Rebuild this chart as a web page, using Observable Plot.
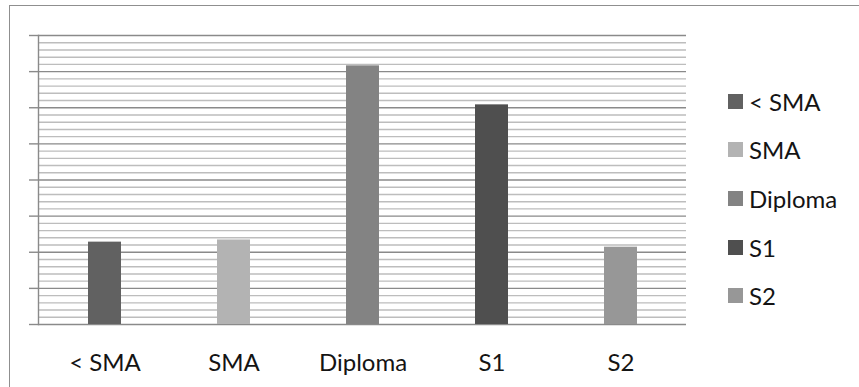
<!DOCTYPE html>
<html>
<head>
<meta charset="utf-8">
<script src="https://cdn.jsdelivr.net/npm/d3@7"></script>
<script src="https://cdn.jsdelivr.net/npm/@observablehq/plot@0.6"></script>
<style>
  html, body { margin: 0; padding: 0; background: #fff; overflow: hidden; }
  #wrap { position: relative; width: 859px; height: 387px; overflow: hidden; }
  #box { position: absolute; left: 8.5px; top: 4.5px; width: 1000px; height: 600px;
         border: 1.6px solid #8f8f8f; box-sizing: border-box; }
  #chart { position: absolute; left: 0; top: 0; }
  #legend { position: absolute; left: 728px; top: 0; font-family: Lato, sans-serif;
            font-size: 24px; color: #141414; }
  .item { position: absolute; left: 0; display: flex; align-items: center; white-space: nowrap; }
  .sw { width: 15px; height: 15px; margin-right: 6px; }
</style>
</head>
<body>
<div id="wrap">
  <div id="box"></div>
  <div id="chart"></div>
  <div id="legend"></div>
</div>
<script>
// Education level shares (percent)
const categories = ["< SMA", "SMA", "Diploma", "S1", "S2"];
const values = [11.4, 11.7, 35.8, 30.4, 10.7];
const colors = ["#616161", "#b3b3b3", "#838383", "#4f4f4f", "#979797"];

// Value axis: 0–40 with a gridline every unit, major every 5
const yMax = 40;
const majorTicks = d3.range(0, yMax + 1, 5);
const minorTicks = d3.range(0, yMax + 1, 1).filter(v => v % 5 !== 0);

const data = categories.map((c, i) => ({category: c, value: values[i]}));

const chart = Plot.plot({
  width: 859,
  height: 387,
  marginLeft: 38,
  marginRight: 173,
  marginTop: 35,
  marginBottom: 63,
  style: {fontFamily: "Lato, sans-serif", fontSize: "24px", color: "#141414", background: "transparent"},
  x: {domain: categories, paddingInner: 0.747, paddingOuter: 0.3735, label: null},
  y: {domain: [0, yMax], label: null},
  color: {domain: categories, range: colors},
  marks: [
    Plot.ruleY(minorTicks, {stroke: "#bdbdbd", strokeWidth: 1.4}),
    Plot.ruleY(majorTicks, {stroke: "#8a8a8a", strokeWidth: 1.4}),
    Plot.frame({anchor: "left", stroke: "#8a8a8a", strokeWidth: 1.4}),
    Plot.axisY({ticks: majorTicks, tickSize: 9, tickFormat: () => "", stroke: "#8a8a8a", strokeWidth: 1.4, label: null}),
    Plot.barY(data, {x: "category", y: "value", fill: "category"}),
    Plot.axisX({tickSize: 0, tickPadding: 29, fontSize: 24, label: null})
  ]
});
document.getElementById("chart").appendChild(chart);

// Vertical legend on the right
const legend = document.getElementById("legend");
const legendTop = [101, 149.7, 198.4, 247.1, 295.8];
categories.forEach((c, i) => {
  const item = document.createElement("div");
  item.className = "item";
  item.style.top = (legendTop[i] - 15) + "px";
  item.style.height = "30px";
  const sw = document.createElement("span");
  sw.className = "sw";
  sw.style.background = colors[i];
  const tx = document.createElement("span");
  tx.textContent = c;
  item.appendChild(sw);
  item.appendChild(tx);
  legend.appendChild(item);
});
</script>
</body>
</html>
